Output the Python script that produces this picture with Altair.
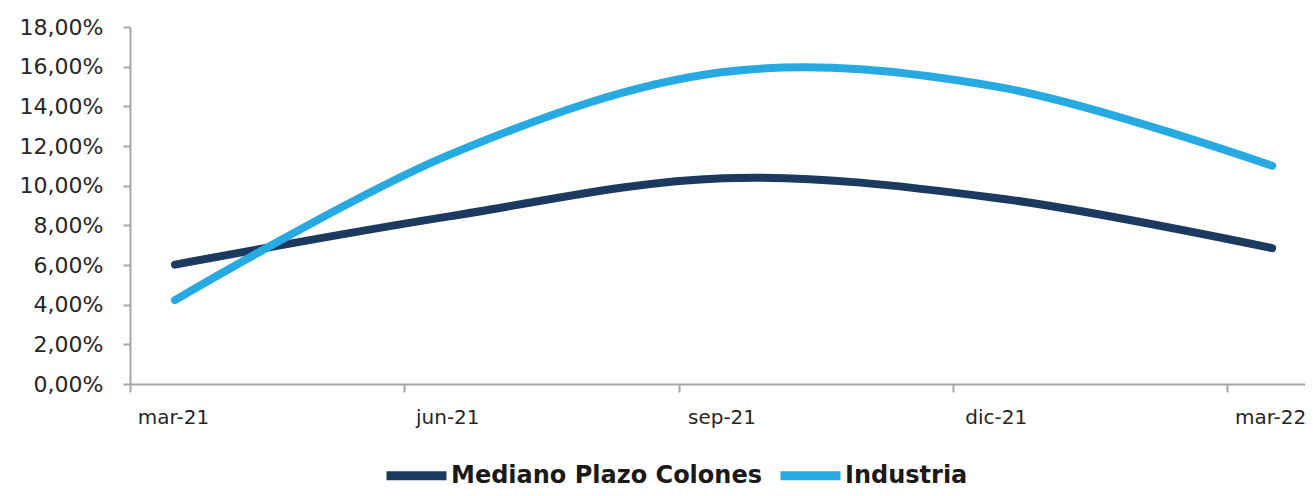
import altair as alt
import pandas as pd

months = ["mar-21", "jun-21", "sep-21", "dic-21", "mar-22"]
series = ["Mediano Plazo Colones", "Industria"]
mediano = [6.02, 8.45, 10.38, 9.37, 6.85]
industria = [4.23, 11.55, 15.73, 14.98, 11.00]
colors = ["#1c3a60", "#27aae1"]
y_ticks = [0, 2, 4, 6, 8, 10, 12, 14, 16, 18]

rows = []
for s, vals in zip(series, [mediano, industria]):
    for i, (m, v) in enumerate(zip(months, vals)):
        rows.append({"serie": s, "mes": m, "idx": i, "valor": v})
df = pd.DataFrame(rows)

label_array = "[" + ",".join(f"'{m}'" for m in months) + "]"
font = "DejaVu Sans"
axis_gray = "#a6a6a6"
text_col = "#262626"

chart = alt.Chart(df).mark_line(
    interpolate="cardinal", strokeWidth=8, strokeCap="round", strokeJoin="round"
).encode(
    x=alt.X(
        "idx:Q",
        scale=alt.Scale(domain=[-0.164, 4.12], nice=False, zero=False),
        axis=alt.Axis(
            values=list(range(len(months))),
            labelExpr=f"{label_array}[datum.value]",
            title=None, grid=False,
            tickOffset=-45, labelOffset=43,
            tickSize=8, tickWidth=2, tickColor=axis_gray,
            domainColor=axis_gray, domainWidth=2,
            labelFont=font, labelFontSize=20, labelColor=text_col,
            labelPadding=15, labelFlush=False, labelOverlap=False,
        ),
    ),
    y=alt.Y(
        "valor:Q",
        scale=alt.Scale(domain=[0, 18], nice=False),
        axis=alt.Axis(
            values=y_ticks,
            labelExpr="replace(format(datum.value/100,'.2%'),'.',',')",
            title=None, grid=False,
            tickSize=7, tickWidth=2, tickColor=axis_gray,
            domainColor=axis_gray, domainWidth=2,
            labelFont=font, labelFontSize=22, labelColor=text_col,
            labelPadding=20, labelFlush=False, labelOverlap=False,
        ),
    ),
    color=alt.Color(
        "serie:N",
        scale=alt.Scale(domain=series, range=colors),
        sort=series,
        legend=alt.Legend(
            title=None, orient="none", legendX=252, legendY=414,
            direction="horizontal", symbolType="stroke", symbolSize=3600,
            symbolStrokeWidth=9, labelFont=font, labelFontSize=24,
            labelFontWeight="bold", labelOffset=0, columnPadding=0,
            labelColor="#1a1a1a", labelLimit=0,
        ),
    ),
).properties(
    width=1175,
    height=357,
    padding={"left": 122, "top": 19, "right": 0, "bottom": 104},
    autosize=alt.AutoSizeParams(type="none"),
).configure_view(stroke=None)

chart.save("out.html", embed_options={"renderer": "svg", "actions": False})
